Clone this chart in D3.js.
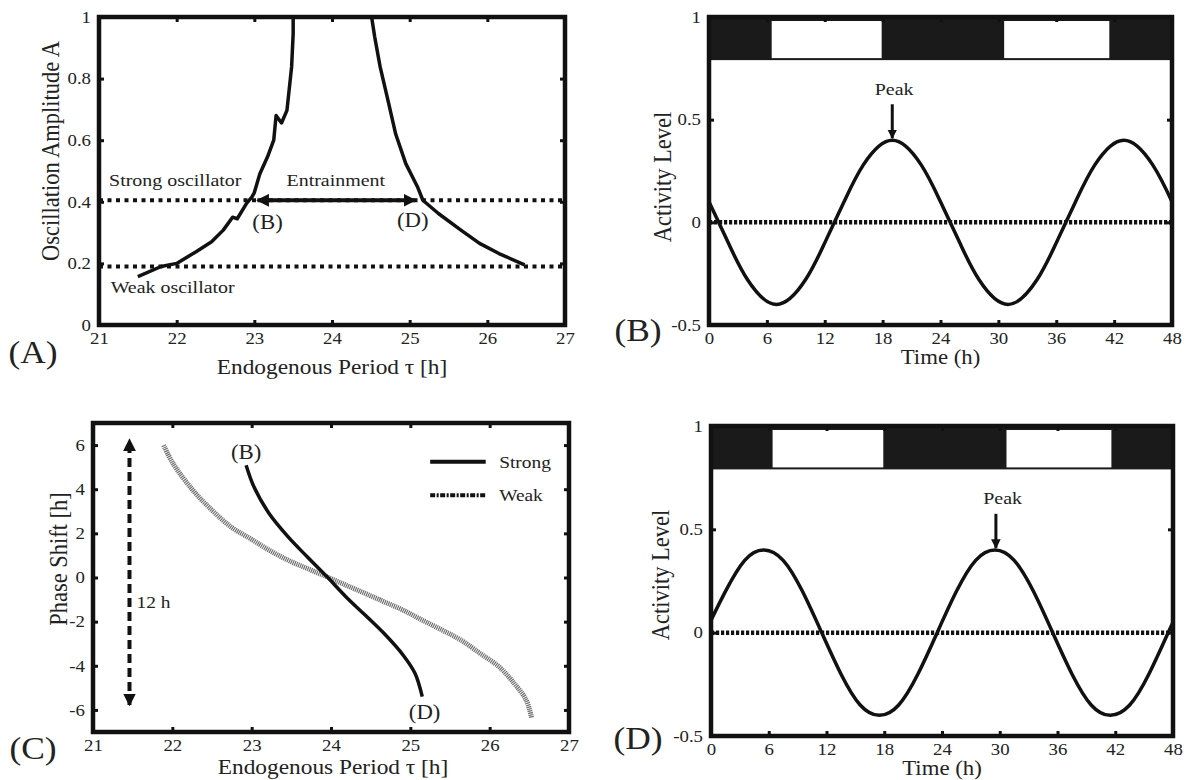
<!DOCTYPE html>
<html>
<head>
<meta charset="utf-8">
<script src="https://cdn.jsdelivr.net/npm/d3@7"></script>
<style>
body { margin: 0; background: #fff; }
svg text { font-family: "Liberation Serif", "Times New Roman", serif; fill: #222; }
/* the figure's lettering is a little wider than plain Times */
.sx { transform-box: fill-box; transform-origin: center; transform: scaleX(1.14); }
.sx.l { transform-origin: left center; }
.sx.r { transform-origin: right center; }
</style>
</head>
<body>
<div id="fig"></div>
<script>
// panel A: amplitude vs endogenous period
var tauTicks = [21, 22, 23, 24, 25, 26, 27];
var ampTicks = [0, 0.2, 0.4, 0.6, 0.8, 1];
var leftTau = [21.5, 21.8, 22.0, 22.25, 22.45, 22.6, 22.72, 22.78, 22.9, 22.97, 23.0, 23.07, 23.17, 23.25, 23.28, 23.35, 23.42, 23.48, 23.5, 23.5];
var leftAmp = [0.157, 0.19, 0.2, 0.238, 0.27, 0.308, 0.35, 0.345, 0.395, 0.416, 0.43, 0.49, 0.546, 0.6, 0.68, 0.656, 0.697, 0.838, 0.946, 1.0];
var rightTau = [24.51, 24.55, 24.62, 24.72, 24.82, 24.95, 25.1, 25.17, 25.37, 25.66, 25.9, 26.15, 26.48];
var rightAmp = [1.0, 0.935, 0.838, 0.73, 0.62, 0.524, 0.449, 0.405, 0.362, 0.308, 0.265, 0.232, 0.195];
var oscLevels = [0.405, 0.19];
var entrainRange = [23.04, 25.07];

// panels B and D: activity over 48 h
var timeTicks = [0, 6, 12, 18, 24, 30, 36, 42, 48];
var actTicks = [-0.5, 0, 0.5, 1];
var timeB = [0, 2, 4, 7, 10, 12, 14, 16, 19, 22, 24, 26, 28, 31, 34, 36, 38, 40, 43, 46, 48];
var actB = [0.10, -0.10, -0.28, -0.40, -0.28, -0.10, 0.10, 0.28, 0.40, 0.28, 0.10, -0.10, -0.28, -0.40, -0.28, -0.10, 0.10, 0.28, 0.40, 0.28, 0.10];
var timeD = [0, 1.5, 3.5, 5.5, 7.5, 9.5, 11.5, 13.5, 15.5, 17.5, 19.5, 21.5, 23.5, 25.5, 27.5, 29.5, 31.5, 33.5, 35.5, 37.5, 39.5, 41.5, 43.5, 45.5, 47.5, 48];
var actD = [0.06, 0.20, 0.35, 0.40, 0.35, 0.20, 0, -0.20, -0.35, -0.40, -0.35, -0.20, 0, 0.20, 0.35, 0.40, 0.35, 0.20, 0, -0.20, -0.35, -0.40, -0.35, -0.20, 0, 0.05];
var lightB = [[6.5, 17.9], [30.6, 41.5]];
var lightD = [[6.4, 17.9], [30.7, 41.6]];
var barRange = [0.79, 1];
var peakB = 19, peakD = 29.6;

// panel C: phase shift vs endogenous period
var phaseTicks = [-6, -4, -2, 0, 2, 4, 6];
var strongTau = [22.93, 23.03, 23.22, 23.46, 23.7, 23.95, 24.19, 24.43, 24.67, 24.91, 25.06, 25.15];
var strongShift = [5.09, 4.1, 2.9, 1.84, 0.94, 0.03, -0.88, -1.7, -2.54, -3.52, -4.35, -5.4];
var weakTau = [21.89, 22.01, 22.26, 22.5, 22.74, 22.98, 23.22, 23.46, 23.7, 23.95, 24.19, 24.43, 24.67, 24.91, 25.15, 25.4, 25.64, 25.88, 26.12, 26.31, 26.46, 26.53];
var weakShift = [5.99, 5.16, 3.95, 3.05, 2.29, 1.77, 1.24, 0.78, 0.41, 0.03, -0.35, -0.72, -1.1, -1.48, -1.93, -2.38, -2.84, -3.44, -4.05, -4.8, -5.55, -6.38];

var svg = d3.select("#fig").append("svg").attr("width", 1187).attr("height", 780);

var defs = svg.append("defs");
defs.append("marker").attr("id", "head").attr("viewBox", "0 0 10 10")
  .attr("refX", 9).attr("refY", 5).attr("markerWidth", 3.2).attr("markerHeight", 3.2)
  .attr("orient", "auto-start-reverse")
  .append("path").attr("d", "M0,0 L10,5 L0,10 z").attr("fill", "#111");

var xA = d3.scaleLinear().domain([21, 27]).range([99, 565]);
var yA = d3.scaleLinear().domain([0, 1]).range([325, 17]);
var xB = d3.scaleLinear().domain([0, 48]).range([709, 1172]);
var yB = d3.scaleLinear().domain([-0.5, 1]).range([325, 17]);
var xC = d3.scaleLinear().domain([21, 27]).range([93, 569]);
var yC = d3.scaleLinear().domain([-7, 7]).range([732, 423]);
var xD = d3.scaleLinear().domain([0, 48]).range([711, 1173]);
var yD = d3.scaleLinear().domain([-0.5, 1]).range([736, 426]);

function fmt(d) { return String(d); }

function drawAxes(x, y, xt, yt) {
  var g = svg.append("g");
  var x0 = x.range()[0], x1 = x.range()[1], y0 = y.range()[0], y1 = y.range()[1];
  var bx = g.append("g").attr("transform", "translate(0," + y0 + ")")
    .call(d3.axisBottom(x).tickValues(xt).tickSize(-5).tickPadding(7).tickFormat(fmt));
  g.append("g").attr("transform", "translate(0," + y1 + ")")
    .call(d3.axisTop(x).tickValues(xt).tickSize(-5).tickFormat(""));
  var ly = g.append("g").attr("transform", "translate(" + x0 + ",0)")
    .call(d3.axisLeft(y).tickValues(yt).tickSize(-5).tickPadding(8).tickFormat(fmt));
  g.append("g").attr("transform", "translate(" + x1 + ",0)")
    .call(d3.axisRight(y).tickValues(yt).tickSize(-5).tickFormat(""));
  g.selectAll(".domain").remove();
  g.selectAll(".tick line").attr("stroke", "#111").attr("stroke-width", 3);
  g.selectAll(".tick text").attr("font-size", 16.5).attr("fill", "#333");
  bx.selectAll(".tick text").attr("class", "sx");
  ly.selectAll(".tick text").attr("class", "sx r");
  g.append("rect").attr("x", x0).attr("y", y1).attr("width", x1 - x0).attr("height", y0 - y1)
    .attr("fill", "none").attr("stroke", "#111").attr("stroke-width", 4.5);
}

function label(x, y, txt, size, anchor) {
  return svg.append("text").attr("class", anchor == "start" ? "sx l" : "sx")
    .attr("x", x).attr("y", y).attr("dy", "0.35em")
    .attr("font-size", size).attr("text-anchor", anchor || "middle").text(txt);
}

function ylabel(x, y, txt, size) {
  svg.append("text").attr("transform", "translate(" + x + "," + y + ") rotate(-90) scale(1,1.12)")
    .attr("dy", "0.35em").attr("font-size", size).attr("text-anchor", "middle").text(txt);
}

// ---------- (A)
var lineA = d3.line().x(d => xA(d[0])).y(d => yA(d[1]));
svg.selectAll(".lvl").data(oscLevels).enter().append("line")
  .attr("x1", xA(21)).attr("x2", xA(27)).attr("y1", d => yA(d)).attr("y2", d => yA(d))
  .attr("stroke", "#111").attr("stroke-width", 4).attr("stroke-dasharray", "4,4.5");
svg.append("path").datum(d3.zip(leftTau, leftAmp)).attr("d", lineA)
  .attr("fill", "none").attr("stroke", "#111").attr("stroke-width", 3.5).attr("stroke-linejoin", "round");
svg.append("path").datum(d3.zip(rightTau, rightAmp)).attr("d", lineA)
  .attr("fill", "none").attr("stroke", "#111").attr("stroke-width", 3.5).attr("stroke-linejoin", "round");
svg.append("line").attr("x1", xA(entrainRange[0])).attr("x2", xA(entrainRange[1]))
  .attr("y1", yA(oscLevels[0])).attr("y2", yA(oscLevels[0]))
  .attr("stroke", "#111").attr("stroke-width", 4)
  .attr("marker-start", "url(#head)").attr("marker-end", "url(#head)");
drawAxes(xA, yA, tauTicks, ampTicks);
label(xA(21.13), yA(0.471), "Strong oscillator", 17.5, "start");
label(xA(24.05), yA(0.471), "Entrainment", 17.5);
label(xA(23.17), yA(0.334), "(B)", 20);
label(xA(25.04), yA(0.34), "(D)", 20);
label(xA(21.15), yA(0.123), "Weak oscillator", 17.5, "start");
label(332, 367, "Endogenous Period \u03c4 [h]", 20.5);
ylabel(50, 151, "Oscillation Amplitude A", 22.5);
label(33, 352, "(A)", 31);

// ---------- (B) and (D)
function activityPanel(x, y, times, acts, lights, peak, peakTextX, tag, tagX, tagY, titleY, ylX, ylY) {
  var barTop = y(barRange[1]), barH = y(barRange[0]) - y(barRange[1]);
  svg.append("rect").attr("x", x(0)).attr("y", barTop)
    .attr("width", x(48) - x(0)).attr("height", barH).attr("fill", "#1a1a1a");
  svg.selectAll(null).data(lights).enter().append("rect")
    .attr("x", d => x(d[0])).attr("y", barTop + 4)
    .attr("width", d => x(d[1]) - x(d[0])).attr("height", barH - 6)
    .attr("fill", "#fff");
  svg.append("line").attr("x1", x(0)).attr("x2", x(48)).attr("y1", y(0)).attr("y2", y(0))
    .attr("stroke", "#111").attr("stroke-width", 4.5).attr("stroke-dasharray", "3.2,1.8");
  var line = d3.line().x(d => x(d[0])).y(d => y(d[1])).curve(d3.curveNatural);
  svg.append("path").datum(d3.zip(times, acts)).attr("d", line)
    .attr("fill", "none").attr("stroke", "#111").attr("stroke-width", 3.5);
  drawAxes(x, y, timeTicks, actTicks);
  label(x(peakTextX), y(0.65), "Peak", 17.5);
  svg.append("line").attr("x1", x(peak)).attr("x2", x(peak)).attr("y1", y(0.575)).attr("y2", y(0.41))
    .attr("stroke", "#111").attr("stroke-width", 3).attr("marker-end", "url(#head)");
  label(x(24), titleY, "Time (h)", 20);
  ylabel(ylX, ylY, "Activity Level", 22.5);
  label(tagX, tagY, tag, 31);
}
activityPanel(xB, yB, timeB, actB, lightB, peakB, 19.2, "(B)", 638, 330, 357, 662, 177);
activityPanel(xD, yD, timeD, actD, lightD, peakD, 30.3, "(D)", 638, 738, 768, 660, 575);

// ---------- (C)
var lineC = d3.line().x(d => xC(d[0])).y(d => yC(d[1])).curve(d3.curveCatmullRom);
svg.append("path").datum(d3.zip(weakTau, weakShift)).attr("d", lineC)
  .attr("fill", "none").attr("stroke", "#6f6f6f").attr("stroke-width", 5).attr("stroke-dasharray", "1.2,0.8");
svg.append("path").datum(d3.zip(strongTau, strongShift)).attr("d", lineC)
  .attr("fill", "none").attr("stroke", "#111").attr("stroke-width", 3.5);
svg.append("line").attr("x1", xC(21.46)).attr("x2", xC(21.46)).attr("y1", yC(-5.78)).attr("y2", yC(6.25))
  .attr("stroke", "#111").attr("stroke-width", 4).attr("stroke-dasharray", "9,5")
  .attr("marker-start", "url(#head)").attr("marker-end", "url(#head)");
drawAxes(xC, yC, tauTicks, phaseTicks);
label(xC(21.55), yC(-1.1), "12 h", 17, "start");
label(xC(22.93), yC(5.7), "(B)", 20);
label(xC(25.18), yC(-6.08), "(D)", 20);
svg.append("line").attr("x1", xC(25.25)).attr("x2", xC(25.95)).attr("y1", yC(5.24)).attr("y2", yC(5.24))
  .attr("stroke", "#111").attr("stroke-width", 4);
svg.append("line").attr("x1", xC(25.25)).attr("x2", xC(25.95)).attr("y1", yC(3.73)).attr("y2", yC(3.73))
  .attr("stroke", "#111").attr("stroke-width", 4).attr("stroke-dasharray", "5,1.5,2,1.5");
label(xC(26.12), yC(5.24), "Strong", 17, "start");
label(xC(26.12), yC(3.73), "Weak", 17, "start");
label(333, 767, "Endogenous Period \u03c4 [h]", 20.5);
ylabel(58, 559, "Phase Shift [h]", 22.5);
label(33, 748, "(C)", 31);
</script>
</body>
</html>
